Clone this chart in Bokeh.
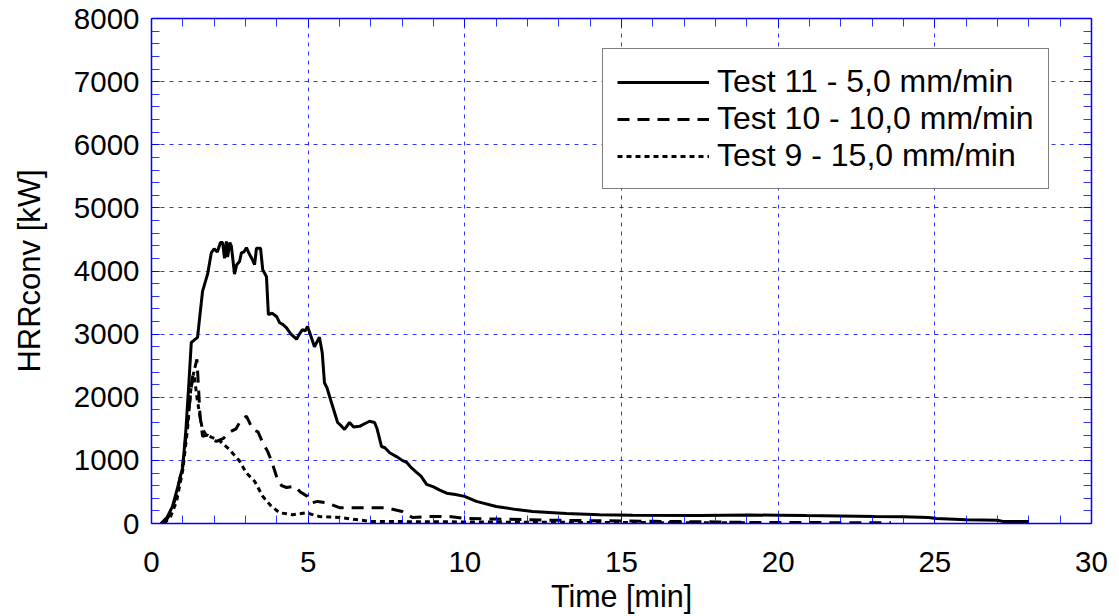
from bokeh.plotting import figure
from bokeh.models import (LinearAxis, SingleIntervalTicker, Range1d, Legend, LegendItem, Grid,
                          CustomJSTickFormatter)
from bokeh.embed import file_html
from bokeh.resources import INLINE

# Test 11 - 5,0 mm/min (solid)
t11 = [0.3, 0.5, 0.67, 0.85, 1.0, 1.1, 1.2, 1.27, 1.35, 1.47, 1.53, 1.63, 1.79, 1.91, 2.0, 2.1, 2.2, 2.27,
       2.33, 2.39, 2.43, 2.5, 2.55, 2.65, 2.72, 2.81, 2.87, 2.95, 3.03, 3.13, 3.2, 3.29, 3.35, 3.48, 3.55,
       3.67, 3.73, 3.85, 3.99, 4.09, 4.2, 4.31, 4.45, 4.63, 4.72, 4.82, 4.9, 4.98, 5.1, 5.2, 5.36, 5.45,
       5.52, 5.6, 5.74, 5.94, 6.05, 6.16, 6.32, 6.45, 6.64, 6.8, 6.96, 7.12, 7.2, 7.34, 7.45, 7.6, 7.82,
       8.0, 8.14, 8.3, 8.46, 8.6, 8.78, 9.0, 9.2, 9.42, 9.7, 9.99, 10.37, 11.0, 11.65, 12.16, 13.24, 14.3,
       15.35, 17.5, 19.1, 20.0, 20.9, 22.0, 23.1, 24.0, 24.8, 25.05, 26.0, 27.0, 27.2, 28.0]
v11 = [0, 100, 270, 600, 900, 1500, 2280, 2870, 2900, 2950, 3230, 3680, 3950, 4290, 4350, 4300, 4450, 4450,
       4200, 4470, 4220, 4450, 4390, 3950, 4100, 4150, 4290, 4300, 4370, 4260, 4200, 4100, 4360, 4360, 4020,
       3910, 3310, 3330, 3280, 3180, 3150, 3100, 3000, 2920, 3000, 3070, 3050, 3120, 2950, 2800, 2950, 2700,
       2230, 2150, 1920, 1600, 1550, 1490, 1600, 1530, 1540, 1580, 1620, 1600, 1500, 1220, 1200, 1120, 1060,
       1000, 970, 880, 810, 750, 620, 580, 530, 480, 460, 430, 350, 270, 220, 190, 160, 140,
       130, 125, 135, 130, 125, 120, 110, 105, 95, 80, 60, 50, 30, 30]

# Test 10 - 10,0 mm/min (dashed)
t10 = [0.4, 0.6, 0.8, 1.0, 1.15, 1.3, 1.45, 1.55, 1.63, 1.8, 2.07, 2.3, 2.5, 2.7, 2.81, 3.03, 3.23, 3.4,
       3.55, 3.7, 3.83, 4.02, 4.15, 4.31, 4.56, 4.75, 4.98, 5.14, 5.3, 5.58, 6.0, 6.42, 6.96, 7.5, 8.0, 8.33,
       8.78, 9.5, 10.0, 11.0, 12.0, 13.0, 14.0, 15.0, 16.0, 17.0, 18.0, 19.3, 21.0, 23.6]
v10 = [0, 150, 450, 950, 1600, 2300, 2600, 1700, 1380, 1400, 1300, 1350, 1450, 1500, 1600, 1700, 1490, 1450,
       1280, 1150, 990, 700, 600, 570, 590, 500, 430, 330, 350, 330, 250, 250, 250, 250, 190, 95,
       110, 110, 80, 70, 60, 50, 45, 40, 35, 30, 25, 15, 15, 10]

# Test 9 - 15,0 mm/min (dotted)
t9 = [0.4, 0.6, 0.8, 1.0, 1.15, 1.25, 1.35, 1.45, 1.53, 1.62, 1.75, 2.0, 2.2, 2.49, 2.81, 3.03, 3.29, 3.55,
      3.83, 4.09, 4.5, 4.94, 5.36, 6.0, 7.05, 8.0, 10.0, 12.0, 15.0, 19.0]
v9 = [0, 100, 350, 850, 1500, 2100, 2400, 2000, 1750, 1500, 1400, 1350, 1300, 1170, 990, 800, 670, 430,
      270, 170, 140, 170, 110, 95, 30, 30, 25, 20, 15, 10]

labels = ["Test 11 - 5,0 mm/min", "Test 10 - 10,0 mm/min", "Test 9 - 15,0 mm/min"]

FONT = "Liberation Sans"
BLUE = "#0000ff"

p = figure(frame_width=940, frame_height=505, output_backend="svg", toolbar_location=None,
           x_range=Range1d(0, 30), y_range=Range1d(0, 8000),
           min_border_left=151, min_border_top=18, min_border_right=19, min_border_bottom=40,
           x_axis_location=None, y_axis_location=None,
           background_fill_color="white", border_fill_color="white")
p.outline_line_color = None


def make_axis(interval, show_labels):
    ax = LinearAxis(ticker=SingleIntervalTicker(interval=interval, num_minor_ticks=5))
    ax.axis_line_color = BLUE
    ax.axis_line_width = 1.5
    ax.major_tick_line_color = BLUE
    ax.minor_tick_line_color = BLUE
    ax.major_tick_line_alpha = 0.8
    ax.minor_tick_line_alpha = 0.8
    ax.major_tick_in = 8
    ax.major_tick_out = 0
    ax.minor_tick_in = 8
    ax.minor_tick_out = 0
    ax.major_label_text_font = FONT
    ax.major_label_text_color = "black"
    ax.axis_label_text_font = FONT
    ax.axis_label_text_font_style = "normal"
    ax.axis_label_text_color = "black"
    ax.major_label_text_font_size = "29.5px"
    if not show_labels:
        ax.formatter = CustomJSTickFormatter(code="return '';")
        ax.major_label_standoff = 0
    return ax


xb = make_axis(5, True)
xb.axis_label = "Time [min]"
xb.axis_label_text_font_size = "30.5px"
xb.major_label_standoff = 28
xb.axis_label_standoff = 4
p.add_layout(xb, "below")

yl = make_axis(1000, True)
yl.axis_label = "HRRconv [kW]"
yl.axis_label_text_font_size = "31px"
yl.major_label_standoff = 12
yl.axis_label_standoff = 24
p.add_layout(yl, "left")

xt = make_axis(5, False)
p.add_layout(xt, "above")
yr = make_axis(1000, False)
p.add_layout(yr, "right")

p.xgrid.visible = False
p.ygrid.visible = False
p.add_layout(Grid(dimension=0, ticker=xb.ticker, grid_line_color=BLUE, grid_line_alpha=0.8,
                  grid_line_dash="4 5", grid_line_width=1))
p.add_layout(Grid(dimension=1, ticker=yl.ticker, grid_line_color=BLUE, grid_line_alpha=0.8,
                  grid_line_dash="4 5", grid_line_width=1))

r11 = p.line(t11, v11, line_color="black", line_width=3)
r10 = p.line(t10, v10, line_color="black", line_width=3, line_dash="12 8")
r9 = p.line(t9, v9, line_color="black", line_width=3, line_dash="5 4")

legend = Legend(items=[LegendItem(label=labels[0], renderers=[r11]),
                       LegendItem(label=labels[1], renderers=[r10]),
                       LegendItem(label=labels[2], renderers=[r9])],
                location=(451, 334))
legend.label_text_font = FONT
legend.label_text_font_size = "32px"
legend.label_text_color = "black"
legend.glyph_width = 92
legend.glyph_height = 30
legend.label_standoff = 8
legend.padding = 14
legend.spacing = 0
legend.margin = 0
legend.border_line_color = "black"
legend.border_line_width = 1.5
legend.background_fill_color = "white"
legend.background_fill_alpha = 1
p.add_layout(legend, "center")

open("out.html", "w").write(file_html(p, INLINE))
